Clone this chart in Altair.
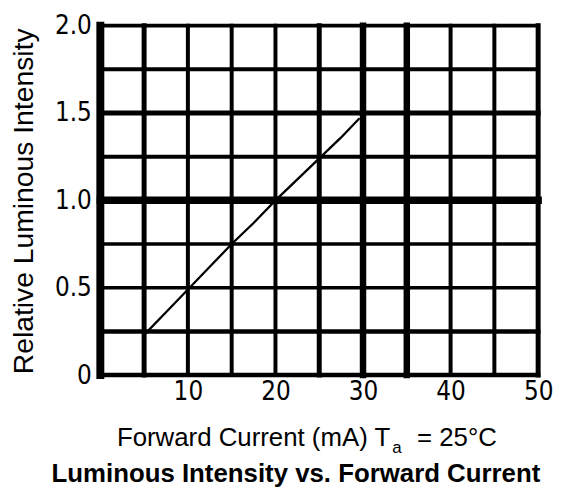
import altair as alt
import pandas as pd

# ---- data ----
current_ma = [5, 7.5, 10, 12.5, 15, 17.5, 20, 22.5, 25, 27.5, 29.6]
rel_intensity = [0.23, 0.36, 0.49, 0.62, 0.75, 0.87, 1.0, 1.12, 1.24, 1.36, 1.47]

x_grid = [0, 5, 10, 15, 20, 25, 30, 35, 40, 45, 50]
y_grid = [0, 0.25, 0.5, 0.75, 1.0, 1.25, 1.5, 1.75, 2.0]
x_tick_labels = [10, 20, 30, 40, 50]
y_tick_labels = [0, 0.5, 1.0, 1.5, 2.0]

x_title_main = "Forward Current (mA) T"
x_title_sub = "a"
x_title_rest = "= 25°C"
y_title = "Relative Luminous Intensity"
chart_title = "Luminous Intensity vs. Forward Current"

# ---- styles ----
x_grid_widths = [8, 5, 4, 4, 4, 5, 6.5, 6.5, 4, 4, 5]
y_grid_widths = [4.5, 4.5, 3.5, 3.5, 7.5, 4, 5, 4, 4]

TICK_FONT = "Liberation Sans Narrow, DejaVu Sans Condensed, Liberation Sans, Arial"
TEXT_FONT = "Liberation Sans, Arial, Helvetica"

W, H = 441, 352

xscale = alt.Scale(domain=[0, 50], nice=False, zero=False)
yscale = alt.Scale(domain=[0, 2], nice=False, zero=False)

vgrid_df = pd.DataFrame({"x": x_grid, "w": x_grid_widths})
hgrid_df = pd.DataFrame({"y": y_grid, "w": y_grid_widths})
line_df = pd.DataFrame({"x": current_ma, "y": rel_intensity})

xaxis = alt.Axis(values=x_tick_labels, ticks=False, domain=False, grid=False, title=None,
                 labelFont=TICK_FONT, labelFontSize=26, labelColor="black",
                 labelPadding=4, labelFlush=False, labelOverlap=False)
yaxis = alt.Axis(values=y_tick_labels, ticks=False, domain=False, grid=False, title=None,
                 labelFont=TICK_FONT, labelFontSize=26, labelColor="black",
                 labelPadding=9, labelFlush=False, labelOverlap=False,
                 labelExpr="datum.value == 0 ? '0' : format(datum.value, '.1f')")

vgrid = alt.Chart(vgrid_df).mark_rule(color="black", strokeCap="square").encode(
    x=alt.X("x:Q", scale=xscale, axis=xaxis),
    strokeWidth=alt.StrokeWidth("w:Q", scale=None),
)
hgrid = alt.Chart(hgrid_df).mark_rule(color="black", strokeCap="square").encode(
    y=alt.Y("y:Q", scale=yscale, axis=yaxis),
    strokeWidth=alt.StrokeWidth("w:Q", scale=None),
)
curve = alt.Chart(line_df).mark_line(color="black", strokeWidth=2.3).encode(
    x=alt.X("x:Q", scale=xscale),
    y=alt.Y("y:Q", scale=yscale),
)


def text_layer(txt, px, py, size, align="left", weight="normal", angle=0, baseline="alphabetic"):
    return alt.Chart(pd.DataFrame({"t": [txt]})).mark_text(
        font=TEXT_FONT, fontSize=size, fontWeight=weight, color="black",
        align=align, baseline=baseline, angle=angle,
    ).encode(text="t:N", x=alt.value(px), y=alt.value(py))


t1 = text_layer(x_title_main, 292, 423.5, 26, align="right")
t2 = text_layer(x_title_sub, 294, 430, 17, align="left")
t3 = text_layer(x_title_rest, 319, 423.5, 26, align="left")
t4 = text_layer(chart_title, 197, 460, 26, align="center", weight="bold")
t5 = text_layer(y_title, -68, 177, 28.5, align="center", angle=270)

chart = alt.layer(hgrid, vgrid, curve, t1, t2, t3, t4, t5).properties(
    width=W, height=H,
    autosize="none",
    padding={"left": 93, "top": 16, "right": 20, "bottom": 112},
    background="white",
).configure_view(stroke=None)

chart.save("out.html", embed_options={"renderer": "svg", "actions": False})
